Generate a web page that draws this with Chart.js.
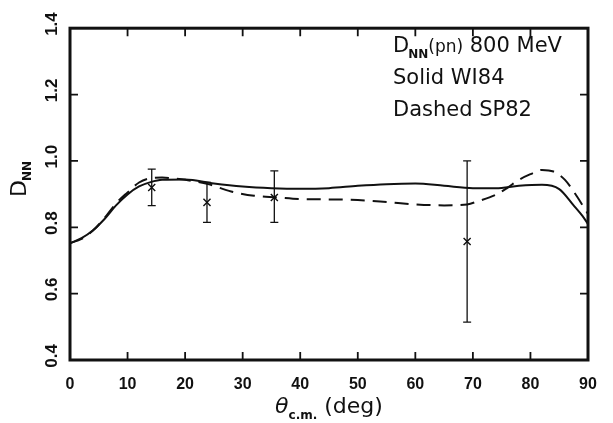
<!DOCTYPE html>
<html>
<head>
<meta charset="utf-8">
<script src="https://cdn.jsdelivr.net/npm/chart.js@4.4.1/dist/chart.umd.min.js"></script>
<style>
	html, body { margin: 0; padding: 0; background: #fff; }
	#wrap { width: 613px; height: 423px; }
</style>
</head>
<body>
<div id="wrap"><canvas id="myChart" width="613" height="423"></canvas></div>
<script>
// solid curve (WI84)
var solidX = [0, 2, 4, 6, 8, 10, 12, 14, 16, 20, 25, 30, 35, 40, 45, 50, 55, 60, 65, 70, 74, 78, 82, 85, 87.5, 89, 90];
var solidY = [0.752, 0.767, 0.791, 0.825, 0.866, 0.899, 0.923, 0.936, 0.943, 0.944, 0.932, 0.923, 0.918, 0.916, 0.918, 0.925, 0.930, 0.932, 0.925, 0.918, 0.918, 0.925, 0.928, 0.915, 0.866, 0.835, 0.81];

// dashed curve (SP82)
var dashedX = [0, 2, 4, 6, 8, 10, 12, 14, 16, 18, 20, 24, 28, 32, 36, 40, 45, 50, 55, 60, 65, 69, 71, 74, 76, 78, 80, 82, 84, 86, 88, 90];
var dashedY = [0.752, 0.765, 0.79, 0.828, 0.872, 0.905, 0.935, 0.948, 0.95, 0.947, 0.943, 0.93, 0.908, 0.895, 0.89, 0.885, 0.884, 0.882, 0.876, 0.869, 0.866, 0.869, 0.879, 0.898, 0.919, 0.943, 0.96, 0.973, 0.968, 0.943, 0.895, 0.84];

// measured points with error bars
var dataX = [14.2, 23.8, 35.5, 69.0];
var dataY = [0.92, 0.875, 0.89, 0.757];
var errLow = [0.865, 0.815, 0.815, 0.514];
var errHigh = [0.975, 0.935, 0.97, 1.0];

var xTicks = [0, 10, 20, 30, 40, 50, 60, 70, 80, 90];
var yTicks = [0.4, 0.6, 0.8, 1.0, 1.2, 1.4];

function pts(xs, ys) {
	var out = [];
	for (var i = 0; i < xs.length; i++) {
		out.push({ x: xs[i], y: ys[i] });
	}
	return out;
}

var ink = "#111";

// error bars, frame, inward ticks and texts
var decor = {
	id: "decor",
	afterDatasetsDraw: function(chart) {
		var ctx = chart.ctx;
		var xs = chart.scales.x, ys = chart.scales.y;
		var a = chart.chartArea;
		ctx.save();
		ctx.strokeStyle = ink;
		ctx.fillStyle = ink;

		// error bars
		ctx.lineWidth = 1.3;
		for (var i = 0; i < dataX.length; i++) {
			var px = xs.getPixelForValue(dataX[i]);
			var y1 = ys.getPixelForValue(errLow[i]);
			var y2 = ys.getPixelForValue(errHigh[i]);
			ctx.beginPath();
			ctx.moveTo(px, y1); ctx.lineTo(px, y2);
			ctx.moveTo(px - 4, y1); ctx.lineTo(px + 4, y1);
			ctx.moveTo(px - 4, y2); ctx.lineTo(px + 4, y2);
			ctx.stroke();
		}

		// ticks
		ctx.lineWidth = 1.8;
		ctx.beginPath();
		xTicks.forEach(function(v) {
			var px = xs.getPixelForValue(v);
			ctx.moveTo(px, a.bottom); ctx.lineTo(px, a.bottom - 8);
			ctx.moveTo(px, a.top); ctx.lineTo(px, a.top + 8);
		});
		yTicks.forEach(function(v) {
			var py = ys.getPixelForValue(v);
			ctx.moveTo(a.left, py); ctx.lineTo(a.left + 8, py);
			ctx.moveTo(a.right, py); ctx.lineTo(a.right - 8, py);
		});
		ctx.stroke();

		// frame
		ctx.lineWidth = 3;
		ctx.strokeRect(a.left, a.top, a.right - a.left, a.bottom - a.top);

		// annotation
		ctx.textBaseline = "alphabetic";
		ctx.textAlign = "left";
		var tx = 393;
		ctx.font = "21px 'DejaVu Sans'";
		ctx.fillText("D", tx, 52);
		var w = ctx.measureText("D").width;
		ctx.font = "bold 12px 'DejaVu Sans'";
		ctx.fillText("NN", tx + w - 1, 58);
		w += ctx.measureText("NN").width - 1;
		ctx.font = "17px 'DejaVu Sans'";
		ctx.fillText("(pn)", tx + w, 52);
		w += ctx.measureText("(pn)").width;
		ctx.font = "21px 'DejaVu Sans'";
		ctx.fillText(" 800 MeV", tx + w, 52);
		ctx.fillText("Solid WI84", tx, 84);
		ctx.fillText("Dashed SP82", tx, 116);

		// x title
		var cx = (a.left + a.right) / 2;
		var t1 = "\u03b8", t2 = "c.m.", t3 = " (deg)";
		ctx.font = "italic 22px 'DejaVu Sans'";
		var w1 = ctx.measureText(t1).width;
		ctx.font = "bold 12px 'DejaVu Sans'";
		var w2 = ctx.measureText(t2).width;
		ctx.font = "22px 'DejaVu Sans'";
		var w3 = ctx.measureText(t3).width;
		var sx = cx - (w1 + w2 + w3) / 2;
		ctx.font = "italic 22px 'DejaVu Sans'";
		ctx.fillText(t1, sx, 413);
		ctx.font = "bold 12px 'DejaVu Sans'";
		ctx.fillText(t2, sx + w1, 419);
		ctx.font = "22px 'DejaVu Sans'";
		ctx.fillText(t3, sx + w1 + w2, 413);

		// y title, rotated
		ctx.translate(26, 197);
		ctx.rotate(-Math.PI / 2);
		ctx.font = "22px 'DejaVu Sans'";
		ctx.fillText("D", 0, 0);
		var wd = ctx.measureText("D").width;
		ctx.font = "bold 12px 'DejaVu Sans'";
		ctx.fillText("NN", wd - 1, 5);
		ctx.restore();
	}
};

new Chart("myChart", {
	type: "scatter",
	data: {
		datasets: [{
			type: "line",
			data: pts(solidX, solidY),
			borderColor: ink,
			borderWidth: 2,
			pointRadius: 0,
			cubicInterpolationMode: "monotone",
			fill: false
		}, {
			type: "line",
			data: pts(dashedX, dashedY),
			borderColor: ink,
			borderWidth: 2,
			borderDash: [14, 8],
			pointRadius: 0,
			cubicInterpolationMode: "monotone",
			fill: false
		}, {
			data: pts(dataX, dataY),
			pointStyle: "crossRot",
			pointRadius: 5,
			borderColor: ink,
			borderWidth: 1.4
		}]
	},
	options: {
		responsive: false,
		animation: false,
		layout: { padding: { top: 19, right: 25, left: 0, bottom: 0 } },
		plugins: {
			legend: { display: false },
			tooltip: { enabled: false }
		},
		scales: {
			x: {
				type: "linear",
				min: 0,
				max: 90,
				afterFit: function(s) { s.height = 63; },
				afterBuildTicks: function(s) {
					s.ticks = xTicks.map(function(v) { return { value: v }; });
				},
				grid: { drawOnChartArea: false, drawTicks: false },
				border: { display: false },
				ticks: {
					color: ink,
					padding: 15,
					maxRotation: 0,
					font: { family: "'Liberation Sans'", size: 16, weight: "bold" }
				}
			},
			y: {
				min: 0.4,
				max: 1.4,
				afterFit: function(s) { s.width = 70; },
				afterBuildTicks: function(s) {
					s.ticks = yTicks.map(function(v) { return { value: v }; });
				},
				grid: { drawOnChartArea: false, drawTicks: false },
				border: { display: false },
				ticks: {
					color: ink,
					padding: 18,
					minRotation: 90,
					maxRotation: 90,
					labelOffset: -16,
					font: { family: "'Liberation Sans'", size: 17, weight: "bold" },
					callback: function(v) { return v.toFixed(1); }
				}
			}
		}
	},
	plugins: [decor]
});
</script>
</body>
</html>
